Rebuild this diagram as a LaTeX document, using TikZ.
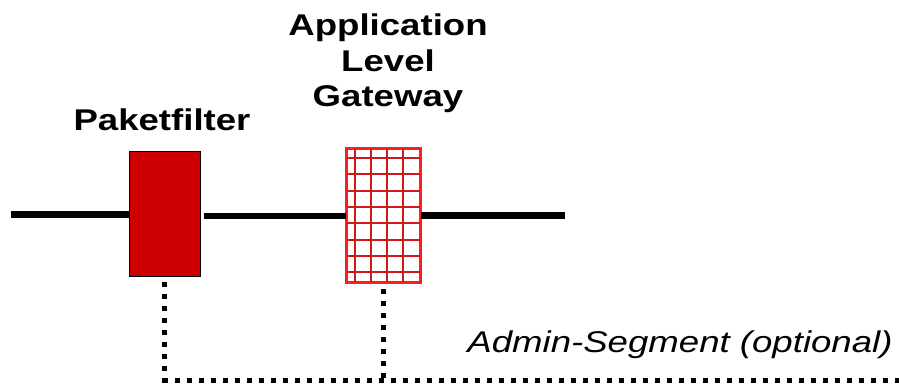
\documentclass[tikz,border=0pt]{standalone}
\usepackage{fontspec}
\newfontfamily\labfont[FakeStretch=1.22]{Liberation Sans}
\definecolor{pfred}{RGB}{204,0,0}
\definecolor{gridred}{RGB}{210,25,25}
\definecolor{borderred}{RGB}{255,30,30}
\tikzset{
  lbl/.style={inner sep=0pt, font=\labfont\fontsize{30}{35.8}\selectfont\bfseries, anchor=base},
  ilbl/.style={inner sep=0pt, font=\labfont\fontsize{30}{35.8}\selectfont\itshape, anchor=base},
  pfbox/.style={draw=black, line width=1pt, fill=pfred, minimum width=71pt, minimum height=125pt, inner sep=0pt},
  algbox/.style={draw=borderred, line width=2pt, fill=white, minimum width=73pt, minimum height=133pt, inner sep=0pt},
  gridline/.style={draw=gridred, line width=2pt},
  netline/.style={line width=7pt, black},
  midline/.style={line width=6pt, black},
  dotline/.style={line width=5pt, black, dash pattern=on 5pt off 7pt}
}
\begin{document}
\begin{tikzpicture}[x=1pt, y=-1pt]
\useasboundingbox (0,0) rectangle (899,383);
% boxes
\node[pfbox] (pf) at (164.5,214) {};
\node[algbox] (alg) at (383.5,215.5) {};
\foreach \gx in {8.7,24.8,40.9,57} {
  \draw[gridline] ([xshift=\gx pt]alg.north west) -- ([xshift=\gx pt]alg.south west);
}
\foreach \gy in {10,26.3,42.6,58.9,75.2,91.5,107.8,124.1} {
  \draw[gridline] ([yshift=-\gy pt]alg.north west) -- ([yshift=-\gy pt]alg.north east);
}
\draw[draw=borderred, line width=2pt] (alg.north west) rectangle (alg.south east);
% network line
\coordinate (netL) at (11,214);
\coordinate (netR) at (565,215.5);
\draw[netline] (netL) -- (pf.west);
\draw[midline, shorten <=3pt] (pf.east |- alg.west) -- (alg.west);
\draw[netline] (alg.east) -- (netR);
% admin segment
\coordinate (adminEnd) at (899,380);
\draw[dotline, shorten <=5pt] (pf.south) -- (pf.south |- adminEnd) -- (adminEnd);
\draw[dotline, shorten <=6pt] (alg.south) -- (alg.south |- adminEnd);
% labels
\node[lbl] (pflabel) at (162,130) {Paketfilter};
\node[lbl, align=center, anchor=north] (alglabel) at (388,13.3) {Application\\Level\\Gateway};
\node[ilbl] (adminlabel) at (680,352.7) {Admin-Segment (optional)};
\end{tikzpicture}
\end{document}
